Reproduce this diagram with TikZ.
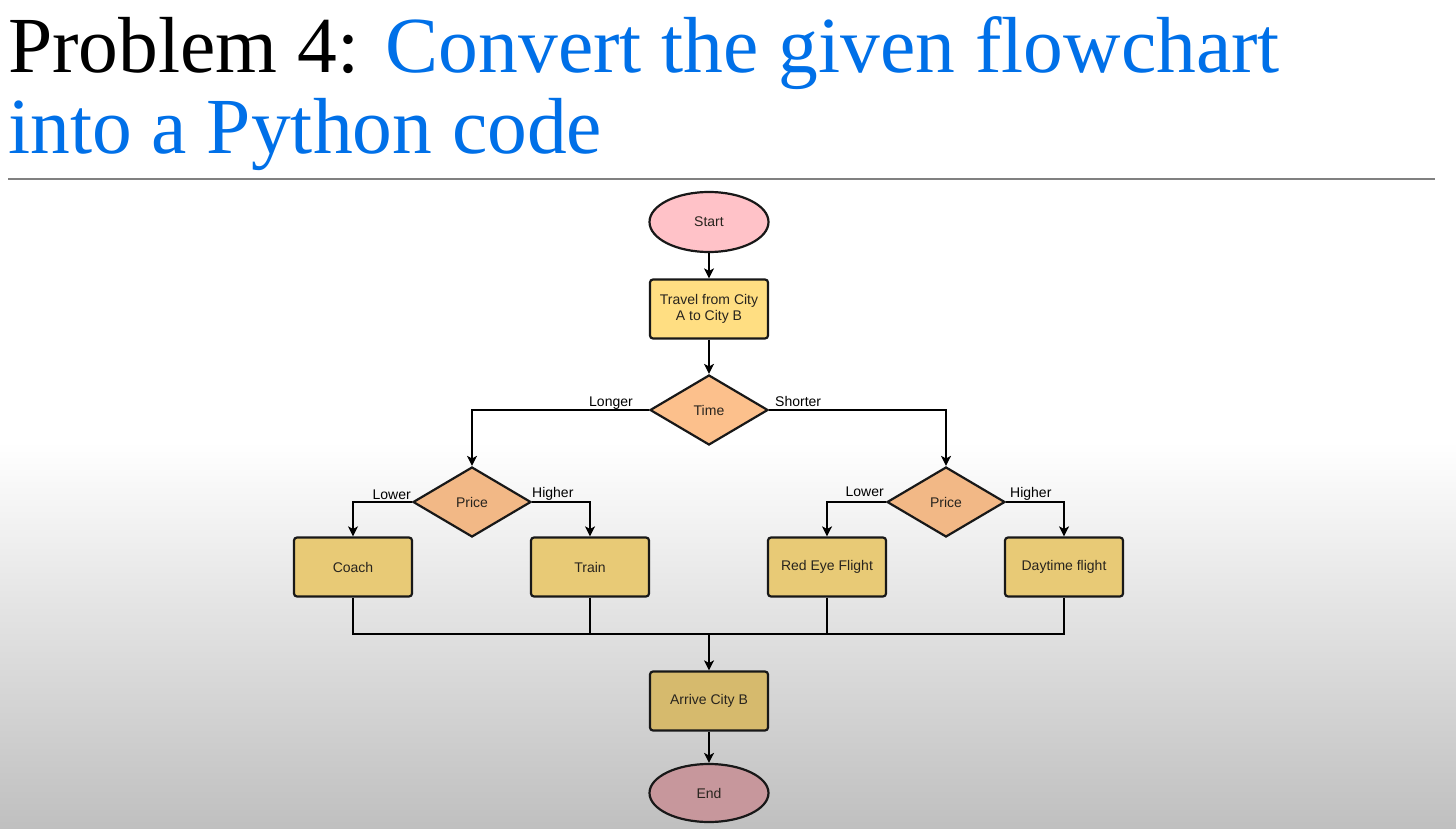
\documentclass[tikz,border=0pt]{standalone}
\usepackage{fontspec}
\setmainfont{Liberation Serif}
\newfontfamily\chartfont{Liberation Sans}
\usetikzlibrary{shapes.geometric,arrows.meta}

\definecolor{titleblue}{RGB}{0,112,232}
\definecolor{startpink}{RGB}{255,194,200}
\definecolor{procyellow}{RGB}{255,222,130}
\definecolor{decpeach}{RGB}{252,192,140}
\definecolor{edgedark}{RGB}{24,24,24}
\definecolor{rulegray}{RGB}{128,128,128}
\definecolor{textdark}{RGB}{40,36,30}

\begin{document}
\begin{tikzpicture}[x=1pt,y=-1pt,
  base/.style={draw=edgedark, line width=2.2pt, text=textdark, align=center,
    inner sep=0pt, font=\chartfont\fontsize{14}{16.5}\selectfont},
  terminal/.style={base, ellipse, minimum width=119pt, minimum height=60pt},
  process/.style={base, rectangle, rounded corners=3pt, minimum width=118pt, minimum height=59pt},
  decision/.style={base, diamond, minimum width=118pt, minimum height=70pt},
  flow/.style={line width=1.3pt, -{Stealth[length=10pt,width=10pt,inset=2.5pt]}},
  link/.style={line width=1.3pt},
  branch/.style={font=\chartfont\fontsize{14}{16}\selectfont, inner sep=0pt, text=black},
  titletext/.style={font=\fontsize{79.5}{90}\selectfont, inner sep=0pt, anchor=base west}
]
% page and background: white top, grey fade towards the bottom
\useasboundingbox (0,0) rectangle (1456,829);
\fill[white] (0,0) rectangle (1456,443);
\shade[top color=white, bottom color=black!25] (0,442) rectangle (1456,829);

% heading
\node[titletext] (title1) at (8,73) {Problem 4: \textcolor{titleblue}{Convert the given flowchart}};
\node[titletext, text=titleblue] (title2) at (8,154) {into a Python code};
\draw[rulegray, line width=1.5pt] (8,179) -- (1435,179);

% flowchart nodes
\node[terminal, fill=startpink] (start) at (709,222) {Start};
\node[process, fill=procyellow] (travel) at (709,309) {Travel from City\\A to City B};
\node[decision, fill=decpeach] (time) at (709,410) {Time};
\node[decision, fill=decpeach!96!black] (priceL) at (472,502) {Price};
\node[decision, fill=decpeach!96!black] (priceR) at (946,502) {Price};
\node[process, fill=procyellow!91!black] (coach) at (353,567) {Coach};
\node[process, fill=procyellow!91!black] (train) at (590,567) {Train};
\node[process, fill=procyellow!91!black] (redeye) at (827,567) {Red Eye Flight};
\node[process, fill=procyellow!91!black] (daytime) at (1064,567) {Daytime flight};
\node[process, fill=procyellow!84!black] (arrive) at (709,701) {Arrive City B};
\node[terminal, fill=startpink!78!black, minimum height=58pt] (end) at (709,793) {End};

% connectors
\draw[flow] (start) -- (travel);
\draw[flow] (travel) -- (time);
\draw[flow] (time.west) -| (priceL.north);
\draw[flow] (time.east) -| (priceR.north);
\draw[flow] (priceL.west) -| (coach.north);
\draw[flow] (priceL.east) -| (train.north);
\draw[flow] (priceR.west) -| (redeye.north);
\draw[flow] (priceR.east) -| (daytime.north);

\coordinate (join) at (709,634);
\draw[link] (coach.south) |- (join) -| (daytime.south);
\draw[link] (train.south) -- (train.south |- join);
\draw[link] (redeye.south) -- (redeye.south |- join);
\draw[flow] (join) -- (arrive.north);
\draw[flow] (arrive) -- (end);

% branch labels
\node[branch, anchor=base east] (lblLonger) at (633,406) {Longer};
\node[branch, anchor=base west] (lblShorter) at (775,406.5) {Shorter};
\node[branch, anchor=base east] (lblLowerL) at (411,499) {Lower};
\node[branch, anchor=base west] (lblHigherL) at (532,497) {Higher};
\node[branch, anchor=base east] (lblLowerR) at (884,496) {Lower};
\node[branch, anchor=base west] (lblHigherR) at (1010,497) {Higher};
\end{tikzpicture}
\end{document}
